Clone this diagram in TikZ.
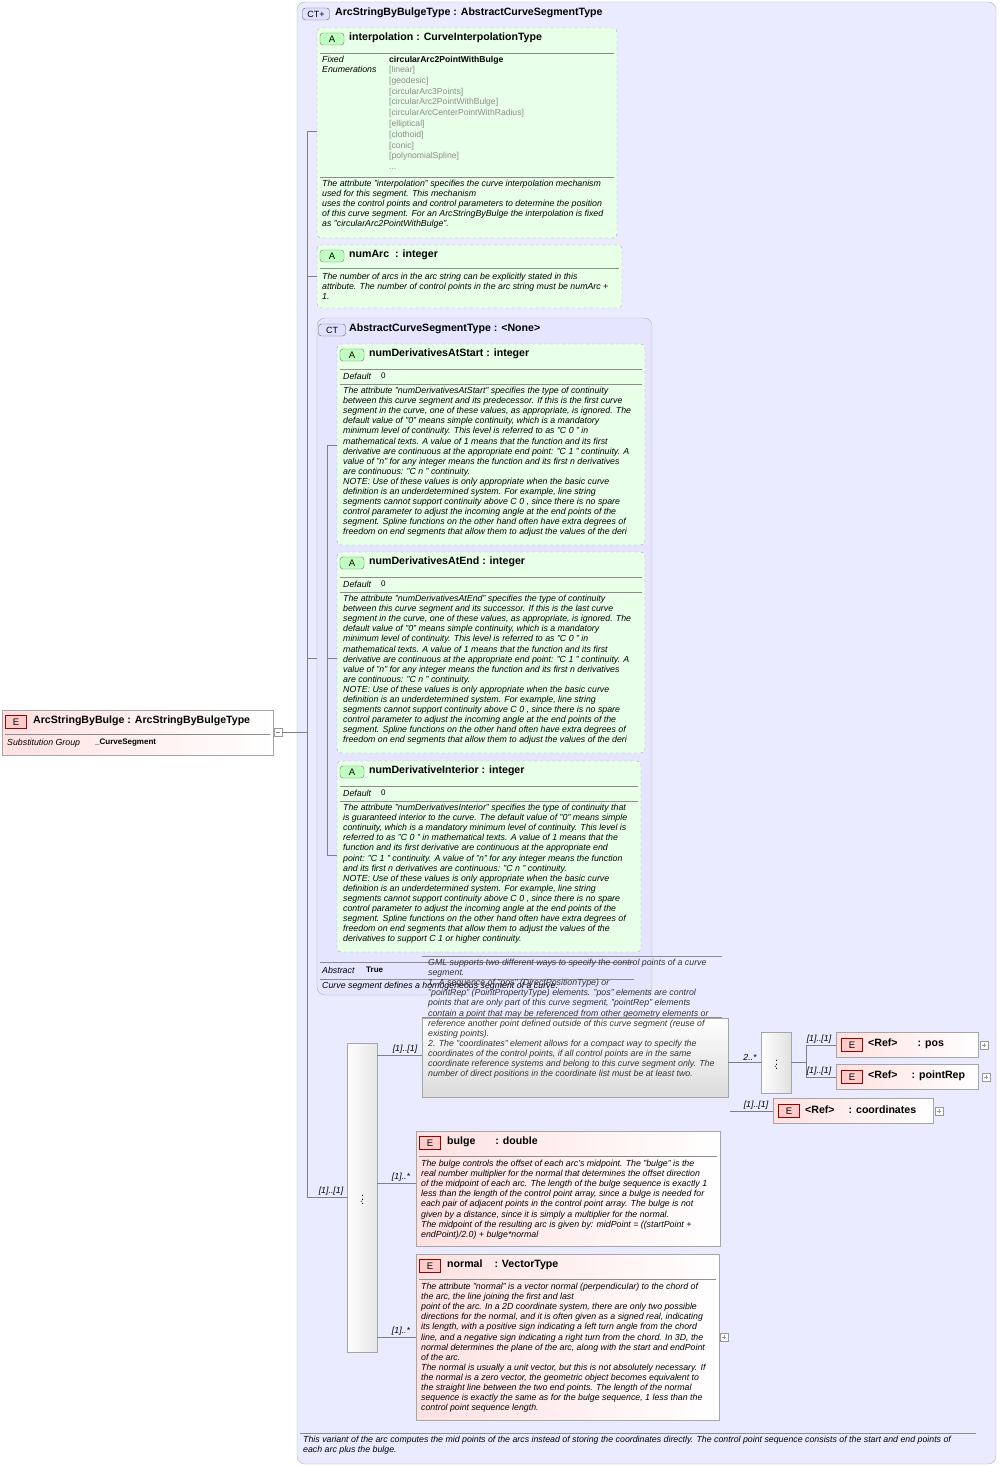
\documentclass[tikz,border=0pt]{standalone}
\usepackage{fontspec}
\setmainfont{Liberation Sans}
\begin{document}
\begin{tikzpicture}[x=1pt,y=-1pt,
  dsc/.style={anchor=north west,inner sep=0,align=left,font=\fontsize{8.8}{10.1}\selectfont\itshape},
  ttl/.style={anchor=west,inner sep=0,font=\fontsize{10.6}{11}\selectfont\bfseries},
  sml/.style={anchor=west,inner sep=0,font=\fontsize{8.8}{9}\selectfont},
  enumv/.style={anchor=north west,inner sep=0,align=left,font=\fontsize{8.6}{10.8}\selectfont\color{black!45}},
  ctbox/.style={draw=black!30,fill=blue!8!white,rounded corners=8pt},
  abox/.style={draw=black!35,dashed,fill=green!9!white,rounded corners=4pt},
  ebox/.style={draw=black!35,left color=red!12!white,right color=white},
  gbox/.style={draw=black!35,fill=black!8},
  sep/.style={draw=black!45},
  conn/.style={draw=black!50},
  mult/.style={anchor=south,inner sep=1pt,font=\fontsize{8.8}{9}\selectfont\itshape},
  aicon/.style={draw=black!55,fill=green!25!white,rounded corners=3pt,minimum width=24pt,minimum height=12pt,inner sep=0,font=\fontsize{9.5}{9}\selectfont},
  eicon/.style={draw=red!60!black,fill=red!20!white,minimum width=21pt,minimum height=13pt,inner sep=0,font=\fontsize{9.5}{9}\selectfont},
  cticon/.style={draw=black!60,fill=blue!12!white,rounded corners=3pt,minimum width=27pt,minimum height=12pt,inner sep=0,font=\fontsize{9}{9}\selectfont}]
\useasboundingbox (0,0) rectangle (1000,1466);
\fill[white] (0,0) rectangle (1000,1466);
% outer CT
\draw[ctbox] (297,2) rectangle (996,1464);
\node[cticon] (cti) at (316,14) {CT+};
\node[ttl] (ctt) at (335,13) {ArcStringByBulgeType : AbstractCurveSegmentType};
% interpolation
\draw[abox] (317,28) rectangle (617,238);
\node[aicon] (a1) at (332,39) {A};
\node[ttl] at (349,38) {interpolation : CurveInterpolationType};
\draw[sep] (320,53) -- (614,53);
\node[dsc] at (322,56) {Fixed\\Enumerations};
\node[anchor=north west,inner sep=0,font=\fontsize{8.6}{9}\selectfont\bfseries] at (389,56) {circularArc2PointWithBulge};
\node[enumv] at (389,66) {{[linear]}\\{[geodesic]}\\{[circularArc3Points]}\\{[circularArc2PointWithBulge]}\\{[circularArcCenterPointWithRadius]}\\{[elliptical]}\\{[clothoid]}\\{[conic]}\\{[polynomialSpline]}\\...};
\draw[sep] (320,177) -- (614,177);
\node[dsc] at (322,180) {The attribute "interpolation" specifies the curve interpolation mechanism\\used for this segment. This mechanism\\uses the control points and control parameters to determine the position\\of this curve segment. For an ArcStringByBulge the interpolation is fixed\\as "circularArc2PointWithBulge".};
% numArc
\draw[abox] (317,245) rectangle (622,308);
\node[aicon] (a2) at (332,256) {A};
\node[ttl] at (349,255) {numArc\ \ : integer};
\draw[sep] (320,268) -- (619,268);
\node[dsc] at (322,273) {The number of arcs in the arc string can be explicitly stated in this\\attribute. The number of control points in the arc string must be numArc +\\1.};
% Abstract CT
\draw[ctbox,fill=blue!10!white] (317,318) rectangle (652,995);
\node[cticon] (cti2) at (332,330) {CT};
\node[ttl] at (349,329) {AbstractCurveSegmentType : <None>};
% numDerivativesAtStart
\draw[abox] (337,344) rectangle (645,545);
\node[aicon] at (352,355) {A};
\node[ttl] at (369,354) {numDerivativesAtStart : integer};
\draw[sep] (340,369) -- (642,369);
\node[sml,font=\fontsize{8.8}{9}\selectfont\itshape] at (343,376) {Default};
\node[sml,font=\fontsize{8}{9}\selectfont] at (381,376) {0};
\draw[sep] (340,384) -- (642,384);
\node[dsc] at (343,387) {The attribute "numDerivativesAtStart" specifies the type of continuity\\between this curve segment and its predecessor. If this is the first curve\\segment in the curve, one of these values, as appropriate, is ignored. The\\default value of "0" means simple continuity, which is a mandatory\\minimum level of continuity. This level is referred to as "C 0 " in\\mathematical texts. A value of 1 means that the function and its first\\derivative are continuous at the appropriate end point: "C 1 " continuity. A\\value of "n" for any integer means the function and its first n derivatives\\are continuous: "C n " continuity.\\NOTE: Use of these values is only appropriate when the basic curve\\definition is an underdetermined system. For example, line string\\segments cannot support continuity above C 0 , since there is no spare\\control parameter to adjust the incoming angle at the end points of the\\segment. Spline functions on the other hand often have extra degrees of\\freedom on end segments that allow them to adjust the values of the deri};
% numDerivativesAtEnd
\draw[abox] (337,552) rectangle (645,753);
\node[aicon] at (352,563) {A};
\node[ttl] at (369,562) {numDerivativesAtEnd : integer};
\draw[sep] (340,577) -- (642,577);
\node[sml,font=\fontsize{8.8}{9}\selectfont\itshape] at (343,584) {Default};
\node[sml,font=\fontsize{8}{9}\selectfont] at (381,584) {0};
\draw[sep] (340,592) -- (642,592);
\node[dsc] at (343,595) {The attribute "numDerivativesAtEnd" specifies the type of continuity\\between this curve segment and its successor. If this is the last curve\\segment in the curve, one of these values, as appropriate, is ignored. The\\default value of "0" means simple continuity, which is a mandatory\\minimum level of continuity. This level is referred to as "C 0 " in\\mathematical texts. A value of 1 means that the function and its first\\derivative are continuous at the appropriate end point: "C 1 " continuity. A\\value of "n" for any integer means the function and its first n derivatives\\are continuous: "C n " continuity.\\NOTE: Use of these values is only appropriate when the basic curve\\definition is an underdetermined system. For example, line string\\segments cannot support continuity above C 0 , since there is no spare\\control parameter to adjust the incoming angle at the end points of the\\segment. Spline functions on the other hand often have extra degrees of\\freedom on end segments that allow them to adjust the values of the deri};
% numDerivativeInterior
\draw[abox] (337,761) rectangle (641,952);
\node[aicon] at (352,772) {A};
\node[ttl] at (369,771) {numDerivativeInterior : integer};
\draw[sep] (340,786) -- (638,786);
\node[sml,font=\fontsize{8.8}{9}\selectfont\itshape] at (343,793) {Default};
\node[sml,font=\fontsize{8}{9}\selectfont] at (381,793) {0};
\draw[sep] (340,801) -- (638,801);
\node[dsc] at (343,804) {The attribute "numDerivativesInterior" specifies the type of continuity that\\is guaranteed interior to the curve. The default value of "0" means simple\\continuity, which is a mandatory minimum level of continuity. This level is\\referred to as "C 0 " in mathematical texts. A value of 1 means that the\\function and its first derivative are continuous at the appropriate end\\point: "C 1 " continuity. A value of "n" for any integer means the function\\and its first n derivatives are continuous: "C n " continuity.\\NOTE: Use of these values is only appropriate when the basic curve\\definition is an underdetermined system. For example, line string\\segments cannot support continuity above C 0 , since there is no spare\\control parameter to adjust the incoming angle at the end points of the\\segment. Spline functions on the other hand often have extra degrees of\\freedom on end segments that allow them to adjust the values of the\\derivatives to support C 1 or higher continuity.};
% abstract footer
\draw[sep] (320,962) -- (634,962);
\node[sml,font=\fontsize{8.8}{9}\selectfont\itshape] at (322,970) {Abstract};
\node[sml,font=\fontsize{8}{9}\selectfont\bfseries] at (366,970) {True};
\draw[sep] (320,979) -- (634,979);
\node[dsc] at (322,982) {Curve segment defines a homogeneous segment of a curve.};
% connectors in abstract
\draw[conn] (327,445) -- (327,855);
\draw[conn] (327,445) -- (337,445);
\draw[conn] (327,658) -- (337,658);
\draw[conn] (327,855) -- (337,855);
% left element
\draw[ebox] (2,710) rectangle (273,755);
\node[eicon] (e0) at (16,722) {E};
\node[ttl] (e0t) at (33,721) {ArcStringByBulge : ArcStringByBulgeType};
\draw[sep] (5,734) -- (270,734);
\node[sml,font=\fontsize{8.8}{9}\selectfont\itshape] at (7,743) {Substitution Group};
\node[sml,font=\fontsize{8}{9}\selectfont\bfseries] at (95,743) {\_CurveSegment};
\draw[black!40,fill=white] (274,728) rectangle (282,736);
\draw[black!50] (276,732) -- (280,732);
% main connectors
\coordinate (m0) at (282,732);
\draw[conn] (m0) -- (307,732);
\draw[conn] (307,131) -- (307,1197);
\draw[conn] (307,131) -- (317,131);
\draw[conn] (307,276) -- (317,276);
\draw[conn] (307,658) -- (317,658);
% main sequence box
\draw[gbox,left color=white,right color=black!10] (347,1043) rectangle (377,1352);
\node[inner sep=0,font=\fontsize{11}{11}\selectfont] (sq1) at (362,1197) {$\cdot\!\vdots$};
\draw[conn] (307,1197) -- (347,1197);
\node[mult] at (331,1197) {[1]..[1]};
% choice group doc box
\draw[gbox,top color=white,bottom color=black!14] (422,1018) rectangle (728,1097);
\draw[sep] (422,956) -- (722,956);
\node[dsc,font=\fontsize{8.8}{10.1}\selectfont\itshape\color{black!80}] at (428,959) {GML supports two different ways to specify the control points of a curve\\segment.\\1. A sequence of "pos" (DirectPositionType) or\\"pointRep" (PointPropertyType) elements. "pos" elements are control\\points that are only part of this curve segment, "pointRep" elements\\contain a point that may be referenced from other geometry elements or\\reference another point defined outside of this curve segment (reuse of\\existing points).\\2. The "coordinates" element allows for a compact way to specify the\\coordinates of the control points, if all control points are in the same\\coordinate reference systems and belong to this curve segment only. The\\number of direct positions in the coordinate list must be at least two.};
\draw[sep] (422,1017) -- (722,1017);
\draw[conn] (377,1055) -- (422,1055);
\node[mult] at (405,1055) {[1]..[1]};
% inner sequence
\draw[gbox,left color=white,right color=black!12] (761,1032) rectangle (791,1093);
\node[inner sep=0,font=\fontsize{11}{11}\selectfont] (sq2) at (776,1062) {$\cdot\!\vdots$};
\draw[conn] (728,1062) -- (761,1062);
\node[mult] at (750,1062) {2..*};
\draw[conn] (791,1062) -- (806,1062) -- (806,1045) -- (836,1045);
\draw[conn] (806,1062) -- (806,1077) -- (836,1077);
\node[mult] at (819,1045) {[1]..[1]};
\node[mult] at (819,1077) {[1]..[1]};
% pos
\draw[ebox] (836,1032) rectangle (978,1057);
\node[eicon] at (852,1045) {E};
\node[ttl] at (868,1044) {<Ref>\hspace{20pt}: pos};
\draw[black!40,fill=white] (980,1041) rectangle (988,1049);
\draw[black!40] (984,1043)--(984,1047) (982,1045)--(986,1045);
% pointRep
\draw[ebox] (836,1064) rectangle (978,1089);
\node[eicon] at (852,1077) {E};
\node[ttl] at (868,1076) {<Ref>\hspace{14pt}: pointRep};
\draw[black!40,fill=white] (982,1073) rectangle (990,1081);
\draw[black!40] (986,1075)--(986,1079) (984,1077)--(988,1077);
% coordinates
\draw[conn] (730,1111) -- (773,1111);
\node[mult] at (756,1111) {[1]..[1]};
\draw[ebox] (773,1098) rectangle (933,1123);
\node[eicon] at (789,1111) {E};
\node[ttl] at (805,1110) {<Ref>\hspace{14pt}: coordinates};
\draw[black!40,fill=white] (935,1107) rectangle (943,1115);
\draw[black!40] (939,1109)--(939,1113) (937,1111)--(941,1111);
% bulge
\draw[conn] (377,1183) -- (416,1183);
\node[mult] at (401,1183) {[1]..*};
\draw[ebox] (416,1131) rectangle (720,1246);
\node[eicon] at (430,1143) {E};
\node[ttl] at (447,1142) {bulge\hspace{20pt}: double};
\draw[sep] (419,1156) -- (717,1156);
\node[dsc] at (421,1160) {The bulge controls the offset of each arc's midpoint. The "bulge" is the\\real number multiplier for the normal that determines the offset direction\\of the midpoint of each arc. The length of the bulge sequence is exactly 1\\less than the length of the control point array, since a bulge is needed for\\each pair of adjacent points in the control point array. The bulge is not\\given by a distance, since it is simply a multiplier for the normal.\\The midpoint of the resulting arc is given by: midPoint = ((startPoint +\\endPoint)/2.0) + bulge*normal};
% normal
\draw[conn] (377,1337) -- (416,1337);
\node[mult] at (401,1337) {[1]..*};
\draw[ebox] (416,1254) rectangle (719,1420);
\node[eicon] at (430,1266) {E};
\node[ttl] at (447,1265) {normal\hspace{12pt}: VectorType};
\draw[sep] (419,1279) -- (716,1279);
\node[dsc] at (421,1283) {The attribute "normal" is a vector normal (perpendicular) to the chord of\\the arc, the line joining the first and last\\point of the arc. In a 2D coordinate system, there are only two possible\\directions for the normal, and it is often given as a signed real, indicating\\its length, with a positive sign indicating a left turn angle from the chord\\line, and a negative sign indicating a right turn from the chord. In 3D, the\\normal determines the plane of the arc, along with the start and endPoint\\of the arc.\\The normal is usually a unit vector, but this is not absolutely necessary. If\\the normal is a zero vector, the geometric object becomes equivalent to\\the straight line between the two end points. The length of the normal\\sequence is exactly the same as for the bulge sequence, 1 less than the\\control point sequence length.};
\draw[black!40,fill=white] (720,1333) rectangle (728,1341);
\draw[black!40] (724,1335)--(724,1339) (722,1337)--(726,1337);
% footer
\draw[sep] (300,1433) -- (976,1433);
\node[dsc] at (303,1436) {This variant of the arc computes the mid points of the arcs instead of storing the coordinates directly. The control point sequence consists of the start and end points of\\each arc plus the bulge.};
\end{tikzpicture}
\end{document}
